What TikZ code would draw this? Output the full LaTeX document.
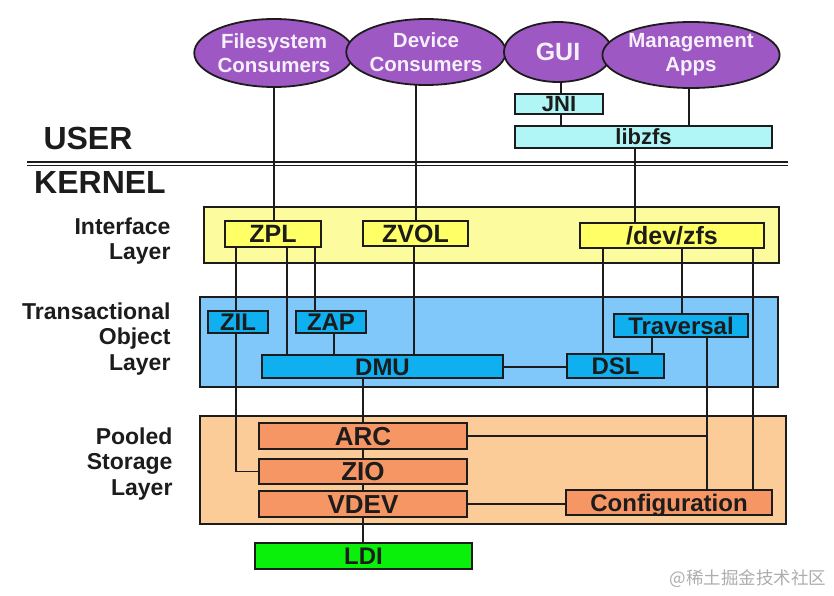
\documentclass[tikz,border=0pt]{standalone}
\usepackage{fontspec}
\setmainfont{Liberation Sans}
\newfontfamily\cjkfont{Noto Sans CJK SC}
\usetikzlibrary{shapes.geometric}
\pgfdeclarelayer{back}
\pgfdeclarelayer{wires}
\pgfsetlayers{back,wires,main}

\definecolor{consumerpurple}{RGB}{158,88,196}
\definecolor{consumertext}{RGB}{246,240,250}
\definecolor{userfill}{RGB}{176,246,246}
\definecolor{ifback}{RGB}{252,252,158}
\definecolor{iffill}{RGB}{255,255,102}
\definecolor{txback}{RGB}{128,200,250}
\definecolor{txfill}{RGB}{16,176,240}
\definecolor{poolback}{RGB}{252,204,152}
\definecolor{poolfill}{RGB}{246,150,100}
\definecolor{ldifill}{RGB}{10,240,10}
\definecolor{ink}{RGB}{28,28,28}

\tikzset{
  consumer/.style={ellipse,draw=ink,line width=1.8pt,fill=consumerpurple,text=consumertext,
    inner sep=0pt,align=center,font=\bfseries\fontsize{20.5}{24}\selectfont},
  box/.style={draw=ink,line width=1.4pt,inner sep=0pt,text=ink,text height=17pt,text depth=0pt,
    font=\bfseries\fontsize{24}{26}\selectfont},
  userbox/.style={box,fill=userfill,text height=15pt,font=\bfseries\fontsize{22}{24}\selectfont},
  ifbox/.style={box,fill=iffill,font=\bfseries\fontsize{25}{27}\selectfont},
  txbox/.style={box,fill=txfill},
  poolbox/.style={box,fill=poolfill,text height=18.5pt,font=\bfseries\fontsize{26}{28}\selectfont},
  ldibox/.style={box,fill=ldifill},
  layerback/.style={draw=ink,line width=1.4pt},
  wire/.style={draw=ink,line width=1.8pt},
  sepline/.style={draw=ink,line width=1.7pt},
  laylabel/.style={anchor=east,align=right,text=ink,font=\bfseries\fontsize{23}{25.5}\selectfont},
  realm/.style={text=ink,font=\bfseries\fontsize{32}{34}\selectfont}
}

\begin{document}
\begin{tikzpicture}[x=1pt,y=-1pt]
\useasboundingbox (0,0) rectangle (834,596);

% user space
\node[consumer,minimum width=148pt,minimum height=68pt] (fsc) at (274,53) {Filesystem\\Consumers};
\node[consumer,minimum width=146pt,minimum height=66pt] (devc) at (426,52) {Device\\Consumers};
\node[consumer,minimum width=108pt,minimum height=60pt,font=\bfseries\fontsize{25}{27}\selectfont] (gui) at (558,52) {GUI};
\node[consumer,minimum width=148pt,minimum height=66pt] (mgmt) at (691,55) {Management\\Apps};
\node[userbox,minimum width=88pt,minimum height=20pt] (jni) at (559,104) {JNI};
\node[userbox,minimum width=257pt,minimum height=22pt] (libzfs) at (643.5,137) {libzfs};

\node[realm] (user) at (88,138) {USER};
\node[realm] (kernel) at (100,182) {KERNEL};
\draw[sepline] (27,162) -- (788,162);
\draw[sepline] (27,165.5) -- (788,165.5);

% layer labels
\node[laylabel] (iflabel) at (174,241) {Interface\\Layer};
\node[laylabel] (txlabel) at (174,339) {Transactional\\Object\\Layer};
\node[laylabel] (poollabel) at (176,464) {Pooled\\Storage\\Layer};

% layers
\begin{pgfonlayer}{back}
\draw[layerback,fill=ifback] (204,207) rectangle (779,263);
\draw[layerback,fill=txback] (200,297) rectangle (778,387);
\draw[layerback,fill=poolback] (200,416) rectangle (786,524);
\end{pgfonlayer}

\node[ifbox,minimum width=96pt,minimum height=26pt] (zpl) at (273,234) {ZPL};
\node[ifbox,minimum width=105pt,minimum height=25pt] (zvol) at (415.5,233.5) {ZVOL};
\node[ifbox,minimum width=184pt,minimum height=25pt] (devzfs) at (672,235.5) {/dev/zfs};

\node[txbox,minimum width=60pt,minimum height=22pt] (zil) at (238,322) {ZIL};
\node[txbox,minimum width=70pt,minimum height=22pt] (zap) at (331,322) {ZAP};
\node[txbox,minimum width=241pt,minimum height=23pt] (dmu) at (382.5,366.5) {DMU};
\node[txbox,minimum width=97pt,minimum height=24pt] (dsl) at (615.5,366) {DSL};
\node[txbox,minimum width=134pt,minimum height=23pt] (trav) at (681,325.5) {Traversal};

\node[poolbox,minimum width=208pt,minimum height=26pt] (arc) at (363,436) {ARC};
\node[poolbox,minimum width=208pt,minimum height=25pt] (zio) at (363,471.5) {ZIO};
\node[poolbox,minimum width=208pt,minimum height=26pt] (vdev) at (363,504) {VDEV};
\node[poolbox,minimum width=206pt,minimum height=25pt,text height=17pt,font=\bfseries\fontsize{24}{26}\selectfont] (conf) at (669,502.5) {Configuration};
\node[ldibox,minimum width=217pt,minimum height=26pt] (ldi) at (363.5,556) {LDI};

\node[anchor=east,text=black!32,font=\cjkfont\fontsize{17.5}{18}\selectfont] (mark) at (830,579) {@稀土掘金技术社区};

% connections
\begin{pgfonlayer}{wires}
\draw[wire] (fsc.south) -- (fsc.south |- zpl.north);
\draw[wire] (416,0 |- devc) -- (416,0 |- zvol.north);
\draw[wire] (561,0 |- gui) -- (561,0 |- jni.north);
\draw[wire] (561,0 |- jni.south) -- (561,0 |- libzfs.north);
\draw[wire] (689,0 |- mgmt) -- (689,0 |- libzfs.north);
\draw[wire] (635,0 |- libzfs.south) -- (635,0 |- devzfs.north);

\draw[wire] (236,0 |- zpl.south) -- (236,0 |- zio.west) -- (zio.west);
\draw[wire] (287,0 |- zpl.south) -- (287,0 |- dmu.north);
\draw[wire] (315,0 |- zpl.south) -- (315,0 |- zap.north);
\draw[wire] (334,0 |- zap.south) -- (334,0 |- dmu.north);
\draw[wire] (414,0 |- zvol.south) -- (414,0 |- dmu.north);
\draw[wire] (dmu.east |- 0,367) -- (dsl.west |- 0,367);
\draw[wire] (dmu.south -| arc) -- (ldi.north -| arc);

\draw[wire] (603,0 |- devzfs.south) -- (603,0 |- dsl.north);
\draw[wire] (682,0 |- devzfs.south) -- (682,0 |- trav.north);
\draw[wire] (753,0 |- devzfs.south) -- (753,0 |- conf.north);
\draw[wire] (652,0 |- trav.south) -- (652,0 |- dsl.north);
\draw[wire] (707,0 |- trav.south) -- (707,0 |- conf.north);
\draw[wire] (arc.east) -- (707,0 |- arc.east);
\draw[wire] (vdev.east |- 0,504) -- (conf.west |- 0,504);
\end{pgfonlayer}
\end{tikzpicture}
\end{document}
